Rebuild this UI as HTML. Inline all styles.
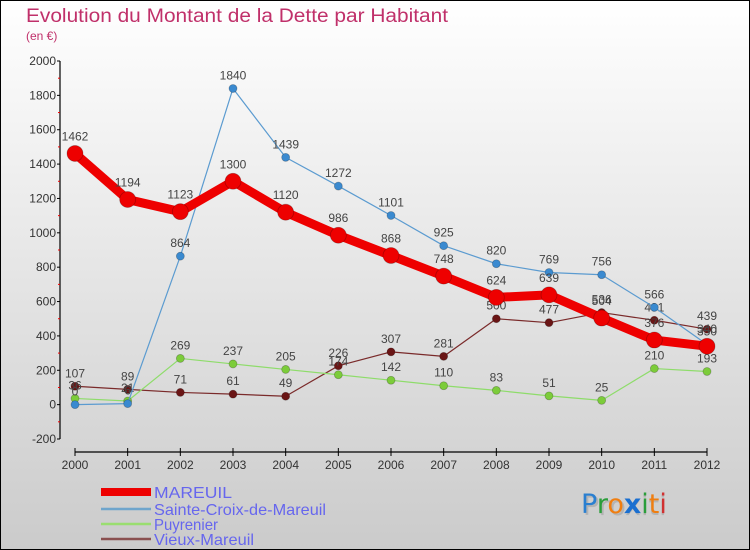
<!DOCTYPE html>
<html><head><meta charset="utf-8">
<style>
html,body{margin:0;padding:0}
body{width:750px;height:550px;overflow:hidden;font-family:"Liberation Sans",sans-serif}
svg{display:block}
</style></head>
<body>
<svg id="chart" width="750" height="550" xmlns="http://www.w3.org/2000/svg">
<defs>
<linearGradient id="bg" x1="0" y1="0" x2="0" y2="1">
<stop offset="0" stop-color="#ffffff"/><stop offset="1" stop-color="#cbcbcb"/>
</linearGradient>
</defs>
<rect x="0.5" y="0.5" width="749" height="549" fill="url(#bg)" stroke="#000" stroke-width="1"/>
<text x="26" y="22" font-size="19" fill="#c0306a" textLength="422" lengthAdjust="spacingAndGlyphs">Evolution du Montant de la Dette par Habitant</text>
<text x="26" y="40" font-size="12" fill="#c0306a">(en €)</text>
<g id="axes"></g>
<g id="series"></g>
<g id="legend"></g>
<g font-family="'DejaVu Sans',sans-serif" font-size="27">
<text x="583" y="515" fill="#999" opacity="0.5">Proxiti</text>
<text x="581" y="513"><tspan fill="#2a7fd0">P</tspan><tspan fill="#2a9d3a">r</tspan><tspan fill="#f07e10">o</tspan><tspan fill="#1a6fd0" font-weight="bold">x</tspan><tspan fill="#2a9d3a">i</tspan><tspan fill="#f07e10">t</tspan><tspan fill="#d03030">i</tspan></text>
</g>
</svg>
<script>
const years = [2000,2001,2002,2003,2004,2005,2006,2007,2008,2009,2010,2011,2012];
const mareuil = [1462,1194,1123,1300,1120,986,868,748,624,639,504,376,340];
const sainteCroix = [0,6,864,1840,1439,1272,1101,925,820,769,756,566,350];
const puyrenier = [36,21,269,237,205,174,142,110,83,51,25,210,193];
const vieuxMareuil = [107,89,71,61,49,226,307,281,500,477,536,491,439];
const yTicks = [-200,0,200,400,600,800,1000,1200,1400,1600,1800,2000];
const seriesNames = ["MAREUIL","Sainte-Croix-de-Mareuil","Puyrenier","Vieux-Mareuil"];

const NS="http://www.w3.org/2000/svg";
const x0=75,x1=707,yMin=-200,yMax=2000,py0=439,py1=61;
const xs=i=>x0+(x1-x0)*i/(years.length-1);
const ys=v=>py0-(v-yMin)*(py0-py1)/(yMax-yMin);
function mk(tag,attrs,parent){const e=document.createElementNS(NS,tag);for(const k in attrs)e.setAttribute(k,attrs[k]);parent.appendChild(e);return e;}

const axes=document.getElementById('axes');
const ya=mk('line',{x1:60,y1:py1,x2:60,y2:py0,stroke:'#000','stroke-width':1.2},axes);


yTicks.forEach((t,i)=>{
  const y=ys(t);
  mk('line',{x1:57,y1:y,x2:60,y2:y,stroke:'#000'},axes);
  const lb=mk('text',{x:56,y:y+4,'text-anchor':'end','font-size':12,fill:'#333'},axes);
  lb.textContent=t;
  
  
  if(i<yTicks.length-1){const ym=ys(t+100);mk('line',{x1:58,y1:ym,x2:60,y2:ym,stroke:'#e00'},axes);}
});
const xa=mk('line',{x1:x0,y1:452,x2:x1,y2:452,stroke:'#000','stroke-width':1.2},axes);


years.forEach((yr,i)=>{
  const x=xs(i);
  mk('line',{x1:x,y1:448,x2:x,y2:456,stroke:'#000'},axes);
  const lb=mk('text',{x:x,y:469,'text-anchor':'middle','font-size':12,fill:'#333'},axes);
  lb.textContent=yr;
  
  
});

const sg=document.getElementById('series');
const defs=[
 {name:'vieux-mareuil',data:vieuxMareuil,color:'#7a2a2a',dot:'#6a1515',w:1.2,r:4},
 {name:'puyrenier',data:puyrenier,color:'#8edc6a',dot:'#7ccc3a',w:1.2,r:4},
 {name:'sainte-croix-de-mareuil',data:sainteCroix,color:'#5b9bd0',dot:'#3a8ad0',w:1.2,r:4},
 {name:'mareuil',data:mareuil,color:'#ee0000',dot:'#ee0000',w:9,r:8}
];
defs.forEach(s=>{
  const g=mk('g',{},sg);
  
  
  const pts=s.data.map((v,i)=>xs(i)+','+ys(v)).join(' ');
  const pl=mk('polyline',{points:pts,fill:'none',stroke:s.color,'stroke-width':s.w,'stroke-linejoin':'round'},g);
  
  
  s.data.forEach((v,i)=>{
    const c=mk('circle',{cx:xs(i),cy:ys(v),r:s.r,fill:s.dot,stroke:'rgba(0,0,0,0.25)','stroke-width':0.8},g);
    
    
    const t=mk('text',{x:xs(i),y:ys(v)-(s.r+5),'text-anchor':'middle','font-size':12,fill:'#444'},g);
    t.textContent=v;
    
    
  });
});

const lg=document.getElementById('legend');
const lstyles=[['#ee0000',8,492],['#6fa5cc',2.5,509],['#9ade70',2.5,524],['#8a5050',2.5,539]];
seriesNames.forEach((n,i)=>{
  const [c,w,y]=lstyles[i];
  const g=mk('g',{},lg);
  
  
  mk('line',{x1:101,y1:y,x2:151,y2:y,stroke:c,'stroke-width':w},g);
  const t=mk('text',{x:154,y:y+6,'font-size':16,fill:'#6666ee'},g);
  t.textContent=n;
  t.setAttribute('textLength',[78,172,64,100][i]);
  t.setAttribute('lengthAdjust','spacingAndGlyphs');
});
</script>
</body></html>
